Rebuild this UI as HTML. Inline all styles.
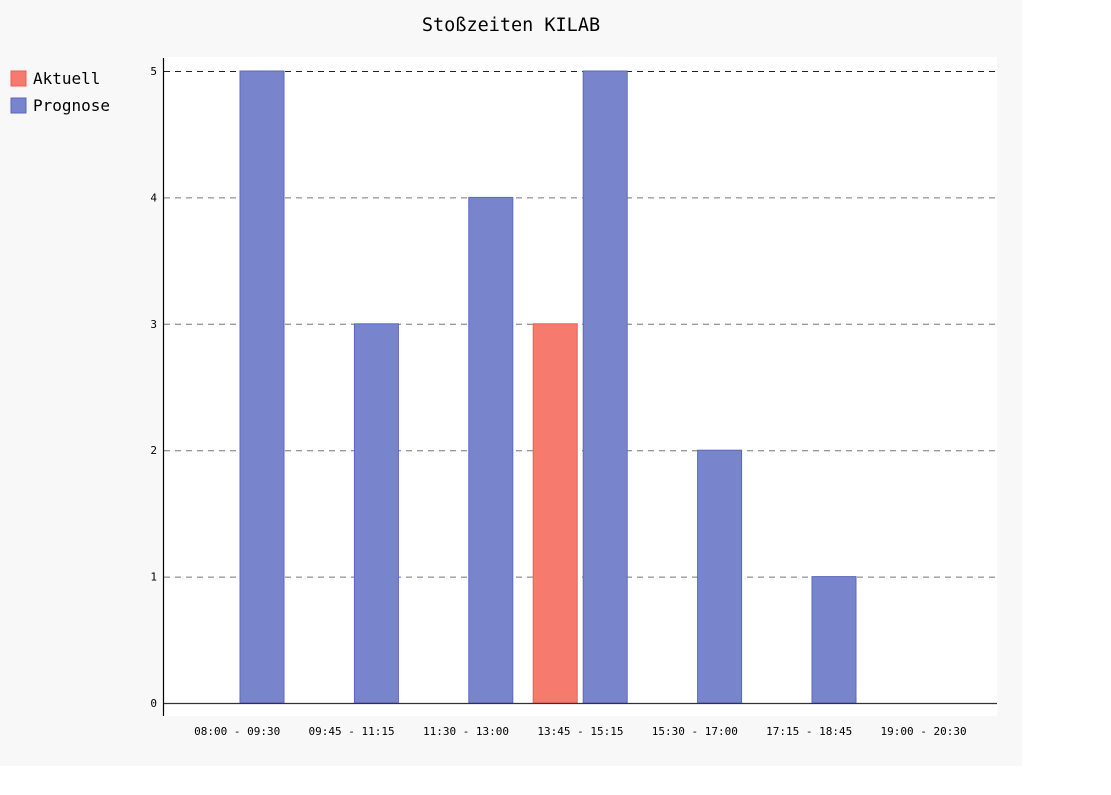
<!DOCTYPE html>
<html><head><meta charset="utf-8"><style>
body{margin:0;background:#fff;width:1111px;height:790px;overflow:hidden}
svg{font-family:"DejaVu Sans Mono","Liberation Mono",monospace}
</style></head><body>
<svg id="c" width="1111" height="790">
<rect x="0" y="0" width="1022" height="766" fill="#f8f8f8"/>
<rect x="164" y="57" width="833" height="659" fill="#fff"/>
<text x="511" y="31" text-anchor="middle" font-size="18.5" fill="#000">Stoßzeiten KILAB</text>
<g>
<rect x="11" y="71" width="15" height="15" fill="#f77a6f" stroke="#f45b50"/>
<text x="33" y="84" font-size="16" fill="#000">Aktuell</text>
<rect x="11" y="98" width="15" height="15" fill="#7884cc" stroke="#5a68c0"/>
<text x="33" y="111" font-size="16" fill="#000">Prognose</text>
</g>
<g id="grid"></g><g id="bars"></g><g id="xl"></g>
<line x1="163.5" y1="58" x2="163.5" y2="716" stroke="#000" stroke-width="1.2"/>
<line x1="164" y1="703.5" x2="997" y2="703.5" stroke="#333" stroke-width="1.2"/>
</svg>
<script>
const categories=["08:00 - 09:30","09:45 - 11:15","11:30 - 13:00","13:45 - 15:15","15:30 - 17:00","17:15 - 18:45","19:00 - 20:30"];
const aktuell=[0,0,0,3,0,0,0];
const prognose=[5,3,4,5,2,1,0];
const yTicks=[0,1,2,3,4,5];
const NS="http://www.w3.org/2000/svg";
const x0=180,bw=114.4,yBase=703,yTop=71,yMax=5;
const y=v=>yBase-(yBase-yTop)*v/yMax;
function mk(t,a,p){const e=document.createElementNS(NS,t);for(const k in a)e.setAttribute(k,a[k]);p.appendChild(e);return e;}
const g=document.getElementById('grid');
yTicks.forEach(t=>{
  if(t>0){const l=mk('line',{x1:164,x2:997,y1:y(t)+0.5,y2:y(t)+0.5,stroke:t===5?'#222':'#777','stroke-dasharray':'6,5'},g);
  
  }
  const tx=mk('text',{x:157,y:y(t)+4,'text-anchor':'end','font-size':'11',fill:'#000'},g);tx.textContent=t;
  
  
});
const b=document.getElementById('bars'),xl=document.getElementById('xl');
categories.forEach((c,i)=>{
  const s=x0+i*bw;
  if(aktuell[i]>0){const r=mk('rect',{x:s+10,y:y(aktuell[i]),width:44,height:yBase-y(aktuell[i]),fill:'#f77a6f',stroke:'#f45b50'},b);
  
  }
  if(prognose[i]>0){const r=mk('rect',{x:s+60,y:y(prognose[i]),width:44,height:yBase-y(prognose[i]),fill:'#7884cc',stroke:'#5a68c0'},b);
  
  }
  const t=mk('text',{x:s+bw/2,y:735,'text-anchor':'middle','font-size':'11',fill:'#000'},xl);t.textContent=c;
  
  
});
</script>
</body></html>
